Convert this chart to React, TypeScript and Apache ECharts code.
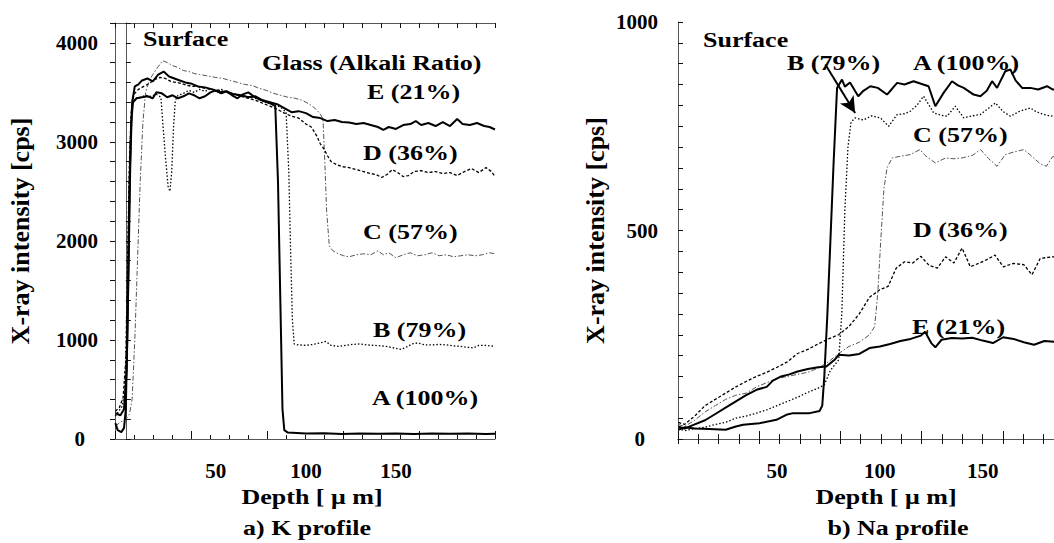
import React, { useEffect, useRef } from "react";
import * as echarts from "echarts";

const FONT = '"Liberation Serif", "Times New Roman", serif';
const GFONT = 'bold 20px "Liberation Serif"';
const STRETCH = 1.3;

// ---------- tick labels ----------
const xLabelValues = [50, 100, 150];
const kYMajor = 1000;
const naYMajor = 500;

// ---------- a) K profile : [depth (µm), intensity (cps)] ----------
const kA = [
  [-5.8, 160], [-4.5, 90], [-2.5, 70], [-1, 110], [0, 300], [1, 1200], [2, 2500], [3, 3200], [4, 3400],
  [6, 3440], [9, 3450], [12, 3460], [15, 3440], [17, 3500], [20, 3490], [23, 3450], [26, 3470], [29, 3440],
  [32, 3460], [35, 3490], [38, 3470], [41, 3440], [44, 3460], [47, 3500], [50, 3520], [53, 3490], [56, 3510],
  [59, 3470], [62, 3440], [65, 3480], [68, 3500], [71, 3460], [74, 3430], [77, 3410], [80, 3390], [83, 3360],
  [84.5, 2600], [85.8, 1400], [87, 300], [88, 90], [90, 65], [95, 60], [100, 55], [110, 58], [120, 50],
  [130, 55], [140, 52], [150, 55], [160, 50], [170, 55], [180, 52], [190, 55], [200, 50], [205, 52],
];
const kB = [
  [-5.8, 230], [-4, 280], [-2, 330], [-0.5, 500], [0.5, 1100], [1.5, 2200], [2.5, 3000], [3.5, 3350], [5, 3440],
  [8, 3450], [11, 3470], [14, 3460], [17, 3480], [19.5, 3450], [20.5, 3200], [22, 2850], [23.5, 2550], [24.5, 2500],
  [25.5, 2700], [26.5, 3150], [27.5, 3420], [29, 3470], [32, 3490], [35, 3520], [38, 3500], [41, 3530], [44, 3510],
  [47, 3540], [50, 3510], [53, 3530], [56, 3500], [59, 3490], [62, 3480], [66, 3460], [70, 3450], [74, 3430],
  [78, 3400], [82, 3380], [86, 3350], [89, 3300], [90.5, 2700], [91.5, 1900], [92.5, 1200], [93.5, 960], [96, 950],
  [100, 945], [104, 955], [108, 970], [111, 985], [114, 945], [118, 935], [122, 945], [126, 955], [130, 960],
  [134, 950], [138, 945], [142, 940], [146, 930], [150, 915], [153, 905], [156, 930], [159, 960], [162, 970],
  [166, 950], [170, 950], [174, 955], [178, 950], [182, 940], [186, 935], [190, 925], [193, 920], [196, 945],
  [200, 945], [205, 935],
];
const kC = [
  [-5.8, 130], [-3, 170], [0, 200], [2, 250], [3.5, 400], [5, 1000], [6.5, 1800], [8, 2600], [9.5, 3200],
  [11, 3500], [13, 3620], [15, 3680], [18, 3760], [20.5, 3820], [23, 3800], [26, 3770], [29, 3750], [32, 3720],
  [35, 3710], [38, 3690], [41, 3680], [44, 3670], [47, 3660], [50, 3650], [54, 3640], [58, 3620], [62, 3600],
  [66, 3580], [70, 3570], [74, 3540], [78, 3520], [82, 3490], [86, 3470], [90, 3450], [94, 3440], [98, 3420],
  [102, 3380], [105, 3340], [108, 3280], [109.5, 3230], [110.5, 2800], [111.5, 2300], [113, 1950], [115, 1900],
  [118, 1870], [121, 1850], [124, 1840], [128, 1860], [132, 1870], [136, 1860], [140, 1900], [143, 1860],
  [146, 1880], [150, 1830], [154, 1860], [158, 1880], [162, 1850], [166, 1860], [170, 1880], [174, 1850],
  [178, 1860], [182, 1840], [186, 1850], [190, 1860], [194, 1850], [198, 1860], [202, 1880], [205, 1870],
];
const kD = [
  [-5.8, 280], [-3.5, 320], [-1.5, 420], [0, 800], [1, 1800], [2, 2800], [3, 3300], [4.5, 3480], [7, 3530],
  [10, 3560], [13, 3590], [16, 3630], [19, 3650], [22, 3640], [25, 3610], [28, 3600], [31, 3590], [34, 3570],
  [37, 3560], [40, 3560], [44, 3540], [48, 3530], [52, 3520], [56, 3500], [60, 3480], [64, 3460], [68, 3440],
  [72, 3420], [76, 3390], [80, 3360], [84, 3330], [88, 3290], [92, 3260], [96, 3240], [100, 3180], [103, 3150],
  [106, 3060], [108, 2980], [110, 2930], [112, 2860], [114, 2800], [117, 2770], [120, 2750], [124, 2740],
  [128, 2720], [132, 2700], [136, 2680], [139, 2670], [142, 2640], [145, 2670], [148, 2720], [151, 2690],
  [154, 2650], [157, 2660], [160, 2700], [164, 2710], [168, 2690], [172, 2700], [176, 2680], [180, 2690],
  [184, 2660], [188, 2700], [192, 2730], [196, 2690], [200, 2740], [203, 2700], [205, 2650],
];
const kE = [
  [-5.8, 260], [-3, 240], [-1, 300], [0.5, 700], [1.5, 1700], [2.5, 2800], [3.5, 3400], [5, 3560], [7, 3580],
  [9, 3620], [12, 3640], [15, 3610], [18, 3680], [21, 3710], [24, 3660], [27, 3640], [30, 3620], [33, 3600],
  [36, 3590], [40, 3560], [44, 3550], [48, 3530], [52, 3500], [56, 3510], [60, 3480], [64, 3470], [68, 3450],
  [72, 3460], [76, 3420], [80, 3400], [84, 3380], [88, 3340], [92, 3300], [96, 3310], [100, 3290], [104, 3250],
  [108, 3240], [112, 3210], [116, 3220], [120, 3200], [124, 3195], [128, 3180], [132, 3190], [136, 3170],
  [140, 3150], [143, 3120], [146, 3150], [150, 3130], [154, 3170], [158, 3180], [161, 3210], [164, 3170],
  [168, 3190], [172, 3160], [176, 3200], [180, 3160], [184, 3230], [187, 3180], [191, 3170], [195, 3190],
  [199, 3160], [202, 3150], [205, 3125],
];

// ---------- b) Na profile : [depth (µm), intensity (cps)] ----------
const naA = [
  [2, 22], [5, 28], [10, 25], [17, 24], [25, 22], [30, 30], [33.5, 34], [41.5, 38], [49.7, 46], [54.5, 58],
  [57.8, 62], [65.9, 62], [70.7, 67], [72, 80], [73, 150], [74.5, 300], [76, 480], [77.5, 660], [79.2, 842],
  [81.6, 862], [83, 845], [85.5, 855], [89.5, 822], [92, 835], [95.4, 846], [99, 842], [103.5, 826], [106, 840],
  [108.4, 854], [112, 850], [116.4, 858], [120, 852], [123.7, 846], [127, 798], [131, 830], [135.1, 858],
  [138, 848], [140.8, 842], [145.6, 826], [148.9, 822], [152, 835], [154.6, 858], [157, 842], [161, 882],
  [163.5, 886], [166, 860], [169.2, 842], [173.2, 842], [177, 838], [181.3, 846], [184.2, 838], [199, 840],
];
const naB = [
  [2, 25], [5, 20], [10, 25], [15, 28], [20, 35], [25, 40], [30, 50], [35, 55], [40, 62], [45, 70], [50, 80],
  [55, 90], [60, 100], [65, 112], [70, 122], [73, 130], [76, 165], [80, 190], [81.5, 300], [83, 550], [84.5, 700],
  [86, 760], [88, 770], [92, 765], [96, 775], [100.3, 770], [104.3, 750], [108.4, 778], [112, 780], [114.8, 786],
  [118, 800], [121.3, 822], [124, 800], [126.2, 782], [130, 776], [132.7, 774], [136.7, 798], [140.8, 770],
  [145, 775], [148.9, 778], [152, 790], [156.2, 806], [160, 785], [163.5, 774], [168, 786], [173.2, 794],
  [176, 785], [179.7, 778], [184.2, 774], [199, 780],
];
const naC = [
  [2, 35], [5, 30], [10, 45], [15, 65], [20, 80], [25, 95], [30, 105], [35, 110], [40, 125], [45, 135],
  [50, 145], [55, 150], [60, 155], [65, 160], [70, 170], [75, 185], [80, 205], [85, 222], [90, 232], [95, 250],
  [97.5, 270], [99, 350], [100.5, 480], [102, 600], [103.5, 650], [106, 674], [110, 678], [114.8, 682],
  [119.5, 694], [122, 680], [127, 662], [132, 674], [136, 672], [140, 674], [145, 680], [149, 694], [153, 672],
  [157, 654], [161, 682], [165, 688], [170, 694], [173, 682], [178, 660], [181, 654], [184, 677], [199, 680],
];
const naD = [
  [2, 40], [5, 35], [10, 55], [15, 80], [20, 95], [25, 110], [30, 125], [35, 138], [40, 150], [45, 160],
  [50, 172], [55, 185], [60, 205], [65, 215], [70, 228], [75, 240], [80, 250], [85, 270], [90, 300], [95, 340],
  [100, 358], [104, 366], [108, 410], [112, 425], [116, 422], [120, 438], [124, 416], [128, 410], [132, 437],
  [136, 422], [140, 458], [144, 413], [148, 421], [152, 430], [156, 441], [160, 413], [165, 421], [170, 418],
  [174, 394], [178, 433], [184, 437], [199, 430],
];
const naE = [
  [2, 30], [5, 25], [10, 35], [15, 45], [20, 60], [25, 75], [30, 90], [35, 105], [40, 118], [45, 125],
  [48, 140], [52, 150], [56, 155], [60, 162], [65, 168], [70, 172], [74, 174], [78, 190], [80, 202], [85, 200],
  [90, 204], [95, 218], [100, 222], [105, 228], [110, 235], [115, 240], [120, 248], [122, 257], [125, 230],
  [127, 220], [130, 238], [135, 242], [140, 241], [145, 243], [150, 236], [155, 230], [160, 244], [165, 240],
  [170, 232], [175, 226], [180, 235], [185, 233], [190, 236], [199, 235],
];

// arrow (B label -> B curve) in Na panel, data coordinates
const naArrowFrom = [73.5, 898];
const naArrowTo = [88, 782];

const glassNames = ["A (100%)", "B (79%)", "C (57%)", "D (36%)", "E (21%)"];

// ---------- styles ----------
const lineStyles: Record<string, any> = {
  A: { color: "#000", width: 2, type: "solid" },
  B: { color: "#000", width: 1.3, type: [1.5, 2] },
  C: { color: "#555", width: 1, type: [5, 2, 1.5, 2] },
  D: { color: "#000", width: 1.3, type: [3, 2] },
  E: { color: "#000", width: 2, type: "solid" },
};

const textBase = { fontFamily: FONT, fontWeight: "bold" as const, color: "#000" };

// annotation texts: [text, left x, centre y]
const annotations: [string, number, number][] = [
  ["Surface", 143, 39],
  ["Glass (Alkali Ratio)", 262, 63],
  [glassNames[4], 367, 92],
  [glassNames[3], 363, 153],
  [glassNames[2], 363, 232],
  [glassNames[1], 373, 330],
  [glassNames[0], 372, 398],
  ["Surface", 703, 40],
  [glassNames[1], 787, 63],
  [glassNames[0], 913, 63],
  [glassNames[2], 913, 135],
  [glassNames[3], 913, 230],
  [glassNames[4], 912, 327],
];
// centred texts: [text, centre x, centre y]
const captions: [string, number, number][] = [
  ["Depth [ μ m]", 312, 497],
  ["a) K profile", 307, 528],
  ["Depth [ μ m]", 886, 497],
  ["b) Na profile", 898, 528],
];

function stretchedText(text: string, x: number, y: number, align: string) {
  return {
    type: "text",
    x,
    y,
    scaleX: STRETCH,
    silent: true,
    style: {
      text,
      font: GFONT,
      fill: "#000",
      align,
      verticalAlign: "middle",
      textAlign: align,
      textVerticalAlign: "middle",
    },
  };
}

function App() {
  const ref = useRef<HTMLDivElement>(null);

  useEffect(() => {
    if (!ref.current) return;
    const chart = echarts.init(ref.current, null, { renderer: "svg" });

    // tick-only axes (20 equal divisions, longer tick every 4th)
    const tickX = (gridIndex: number, position: string, max: number, interval: number, len: number, line: boolean) => ({
      type: "value",
      gridIndex,
      position,
      min: 0,
      max,
      interval,
      axisLine: { show: line, lineStyle: { color: "#555", width: 1 } },
      axisTick: { show: true, inside: true, length: len, lineStyle: { color: "#111", width: 1 } },
      axisLabel: { show: false },
      splitLine: { show: false },
    });

    const mainX = (gridIndex: number, min: number, max: number) => ({
      type: "value",
      gridIndex,
      position: "bottom",
      min,
      max,
      axisLine: { show: false },
      axisTick: { show: false },
      splitLine: { show: false },
      axisLabel: { ...textBase, fontSize: 21, margin: 21, customValues: xLabelValues },
    });

    const yFormatter = (major: number) => (v: number) =>
      v % major === 0 ? (v === 0 ? "{z|0}" : String(v)) : "";

    const mainY = (gridIndex: number, max: number, interval: number, major: number, margin: number, nameGap: number) => ({
      type: "value",
      gridIndex,
      position: "left",
      min: 0,
      max,
      interval,
      axisLine: { show: true, lineStyle: { color: "#555", width: 1 } },
      axisTick: { show: true, inside: true, length: 5, lineStyle: { color: "#111", width: 1 } },
      splitLine: { show: false },
      axisLabel: {
        ...textBase,
        fontSize: 21,
        margin,
        formatter: yFormatter(major),
        rich: { z: { ...textBase, fontSize: 21, padding: [0, 13, 0, 0] } },
      },
      name: "X-ray intensity [cps]",
      nameLocation: "middle",
      nameRotate: 90,
      nameGap,
      nameTextStyle: { ...textBase, fontSize: 26 },
    });

    const sideY = (gridIndex: number, max: number, interval: number) => ({
      type: "value",
      gridIndex,
      position: "right",
      min: 0,
      max,
      interval,
      axisLine: { show: true, lineStyle: { color: "#555", width: 1 } },
      axisTick: { show: true, inside: true, length: 5, lineStyle: { color: "#111", width: 1 } },
      axisLabel: { show: false },
      splitLine: { show: false },
    });

    const line = (name: string, key: string, data: number[][], xi: number, yi: number, extra: any = {}) => ({
      type: "line",
      name,
      data,
      xAxisIndex: xi,
      yAxisIndex: yi,
      symbol: "none",
      showSymbol: false,
      silent: true,
      lineStyle: lineStyles[key],
      z: key === "C" ? 2 : 3,
      ...extra,
    });

    const kSets: [string, number[][]][] = [["C", kC], ["D", kD], ["B", kB], ["A", kA], ["E", kE]];
    const naSets: [string, number[][]][] = [["C", naC], ["D", naD], ["B", naB], ["A", naA], ["E", naE]];
    const idx: Record<string, number> = { A: 0, B: 1, C: 2, D: 3, E: 4 };

    const NA_X = 5; // index of Na main x axis

    const series: any[] = [];
    kSets.forEach(([k, d]) => series.push(line("K " + glassNames[idx[k]], k, d, 0, 0)));
    naSets.forEach(([k, d]) =>
      series.push(
        line(
          "Na " + glassNames[idx[k]],
          k,
          d,
          NA_X,
          2,
          k === "B"
            ? {
                markLine: {
                  silent: true,
                  symbol: ["none", "arrow"],
                  symbolSize: [12, 16],
                  label: { show: false },
                  lineStyle: { color: "#000", width: 2, type: "solid" },
                  data: [[{ coord: naArrowFrom }, { coord: naArrowTo }]],
                },
              }
            : {}
        )
      )
    );

    const graphics: any[] = [
      ...annotations.map(([t, x, y]) => stretchedText(t, x, y, "left")),
      ...captions.map(([t, x, y]) => stretchedText(t, x, y, "center")),
    ];

    // right panel is cut by the image edge: 376 px shown of a 20.3 px tick pitch
    const naTickMax = 376 / 20.3;

    chart.setOption({
      animation: false,
      backgroundColor: "#fff",
      grid: [
        { left: 115, top: 23, width: 380, height: 416, show: false },
        { left: 678, top: 22, right: 0, height: 417, show: false },
      ],
      xAxis: [
        mainX(0, -6, 205),
        tickX(0, "bottom", 20, 1, 4, true),
        tickX(0, "bottom", 20, 4, 8, false),
        tickX(0, "top", 20, 1, 5, true),
        { ...tickX(1, "top", naTickMax, 1, 5, true) },
        mainX(1, 1.85, 184.7),
        tickX(1, "bottom", naTickMax, 1, 5, true),
        tickX(1, "bottom", naTickMax, 4, 8, false),
      ],
      yAxis: [
        mainY(0, 4200, 200, kYMajor, 17, 82),
        sideY(0, 4200, 200),
        mainY(1, 1000, 50, naYMajor, 20, 70),
      ],
      series,
      graphic: graphics,
    });

    return () => chart.dispose();
  }, []);

  return (
    <div
      ref={ref}
      style={{ position: "fixed", left: 0, top: 0, width: 1054, height: 543, background: "#fff", overflow: "hidden" }}
    />
  );
}

export default App;
